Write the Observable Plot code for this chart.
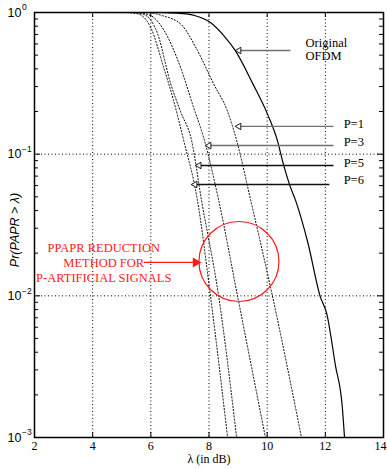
<!DOCTYPE html>
<html><head><meta charset="utf-8">
<script src="https://cdn.jsdelivr.net/npm/d3@7"></script>
<script src="https://cdn.jsdelivr.net/npm/@observablehq/plot@0.6"></script>
<style>body{margin:0;background:#fff}</style>
</head><body><div id="chart"></div>
<script>
// ---- data ----
const lambdaOriginal = [2, 6, 6.5, 7, 7.5, 8.05, 8.5, 8.9, 9.5, 10, 10.35, 10.55, 10.8, 10.97, 11.4, 11.83, 12.04, 12.35, 12.58, 12.66];
const probOriginal   = [1, 1, 0.997, 0.985, 0.953, 0.85, 0.69, 0.54, 0.316, 0.194, 0.125, 0.086, 0.0585, 0.0476, 0.0237, 0.0098, 0.0076, 0.0032, 0.00167, 0.001];

const lambdaP1 = [2, 5.8, 6.4, 7.05, 7.6, 8.15, 8.64, 8.95, 9.43, 10.18, 11.18];
const probP1   = [1, 0.999, 0.95, 0.82, 0.54, 0.316, 0.2, 0.125, 0.0476, 0.01, 0.001];

const lambdaP3 = [2, 5.5, 6.0, 6.45, 7.02, 7.47, 7.82, 8.33, 8.98, 9.94];
const probP3   = [1, 0.999, 0.95, 0.75, 0.41, 0.214, 0.13, 0.0476, 0.01, 0.001];

const lambdaP5 = [2, 5.3, 5.75, 6.23, 6.68, 7.02, 7.4, 7.74, 8.33, 8.95];
const probP5   = [1, 0.999, 0.97, 0.71, 0.316, 0.2, 0.125, 0.0476, 0.01, 0.001];

const lambdaP6 = [2, 5.1, 5.54, 6.0, 6.44, 6.78, 7.13, 7.6, 8.05, 8.64];
const probP6   = [1, 0.999, 0.98, 0.78, 0.41, 0.24, 0.125, 0.0476, 0.01, 0.001];

const seriesNames = ["Original OFDM", "P=1", "P=3", "P=5", "P=6"];

// ticks
const xTicks = [2, 4, 6, 8, 10, 12, 14];
const xGrid = [4, 6, 8, 10, 12];
const yDecades = [1e-3, 1e-2, 1e-1, 1];
const yExponents = ["\u22123", "\u22122", "\u22121", "0"];
const yGrid = [1e-2, 1e-1];
const minorMultipliers = [2, 3, 4, 5, 6, 7, 8, 9];

// annotations
const pLabels = ["P=1", "P=3", "P=5", "P=6"];
const pArrowY = [0.157, 0.115, 0.0832, 0.0611];
const pArrowTipX = [8.91, 7.88, 7.54, 7.40];
const pArrowTailX = [12.28, 12.28, 12.28, 12.14];
const pArrowColor = ["#707070", "#707070", "#111111", "#111111"];
const pLabelX = [12.63, 12.63, 12.63, 12.63];
const pLabelY = [0.164, 0.121, 0.0873, 0.0652];

const origLabel = "Original\nOFDM";
const origLabelX = 11.32, origLabelY = 0.552;
const origArrowTipX = 8.91, origArrowTailX = 10.8, origArrowY = 0.539;

const redLabel = "PPAPR REDUCTION\nMETHOD FOR\nP-ARTIFICIAL SIGNALS";
const redLabelX = 4.38, redLabelY = 0.0172;
const redArrowTailX = 5.76, redArrowTipX = 7.674, redArrowY = 0.0172;
const circleX = 9.03, circleY = 0.01747;

const xAxisLabel = "\u03bb (in dB)";
const yAxisLabel = "Pr(PAPR > \u03bb)";

// ---- build tables ----
const lambdas = [lambdaOriginal, lambdaP1, lambdaP3, lambdaP5, lambdaP6];
const probs = [probOriginal, probP1, probP3, probP5, probP6];
const curveRows = [];
seriesNames.forEach((name, i) => lambdas[i].forEach((l, j) => curveRows.push({series: name, lambda: l, p: probs[i][j]})));
const solidRows = curveRows.filter(d => d.series === "Original OFDM");
const dottedRows = curveRows.filter(d => d.series !== "Original OFDM");

const minorY = [];
yDecades.slice(0, 3).forEach(d => minorMultipliers.forEach(m => minorY.push(d * m)));

const pArrows = pLabels.map((t, i) => ({text: t, y: pArrowY[i], tip: pArrowTipX[i], tail: pArrowTailX[i], color: pArrowColor[i], lx: pLabelX[i], ly: pLabelY[i]}));
const origArrow = [{tip: origArrowTipX, tail: origArrowTailX, y: origArrowY, color: "#707070"}];
const allArrows = pArrows.concat(origArrow);
const yLabels = yDecades.map((d, i) => ({v: d, e: yExponents[i]}));
const xTicksInner = xTicks.slice(0, -1);
const xTickLast = xTicks.slice(-1);

const W = 387, H = 469, mL = 34, mR = 4, mT = 12, mB = 32;
const plotW = W - mL - mR, plotH = H - mT - mB;
const serif = "Liberation Serif, Times New Roman, serif";
const sans = "Liberation Sans, Arial, Helvetica, sans-serif";

const chart = Plot.plot({
  width: W, height: H,
  marginLeft: mL, marginRight: mR, marginTop: mT, marginBottom: mB,
  style: {fontFamily: serif, fontSize: "12px", background: "#fff", overflow: "visible"},
  x: {domain: [2, 14], label: null, axis: null},
  y: {type: "log", domain: [1e-3, 1], axis: null},
  color: {type: "identity"},
  marks: [
    Plot.ruleX(xGrid, {stroke: "#000", strokeWidth: 1, strokeDasharray: "1,2.5"}),
    Plot.ruleY(yGrid, {stroke: "#000", strokeWidth: 1, strokeDasharray: "1,2.5"}),
    Plot.line(dottedRows, {x: "lambda", y: "p", z: "series", stroke: "#000", strokeWidth: 1, strokeDasharray: "1.2,2", curve: "monotone-x"}),
    Plot.line(solidRows, {x: "lambda", y: "p", stroke: "#000", strokeWidth: 1.2, curve: "monotone-x"}),
    Plot.frame({stroke: "#000", strokeWidth: 1.5}),
    // inward ticks
    Plot.tickY(minorY, {y: d => d, insetRight: plotW - 4, stroke: "#000"}),
    Plot.tickY(minorY, {y: d => d, insetLeft: plotW - 4, stroke: "#000"}),
    Plot.tickY(yDecades, {y: d => d, insetRight: plotW - 6, stroke: "#000"}),
    Plot.tickY(yDecades, {y: d => d, insetLeft: plotW - 6, stroke: "#000"}),
    Plot.tickX(xTicks, {x: d => d, insetTop: plotH - 5, stroke: "#000"}),
    Plot.tickX(xTicks, {x: d => d, insetBottom: plotH - 5, stroke: "#000"}),
    // x axis labels
    Plot.text(xTicksInner, {x: d => d, text: d => String(d), frameAnchor: "bottom", textAnchor: "middle", dy: 12, fontSize: 12, fontFamily: serif}),
    Plot.text(xTickLast, {x: d => d, text: d => String(d), frameAnchor: "bottom", textAnchor: "middle", dx: -3, dy: 12, fontSize: 12, fontFamily: serif}),
    Plot.text([xAxisLabel], {frameAnchor: "bottom", textAnchor: "middle", dy: 25, fontSize: 12, fontFamily: serif}),
    // y axis labels 10^k
    Plot.text(yLabels, {y: "v", text: () => "10", frameAnchor: "left", textAnchor: "end", dx: -13, fontFamily: sans, fontSize: 12.5}),
    Plot.text(yLabels, {y: "v", text: "e", frameAnchor: "left", textAnchor: "start", dx: -12.5, dy: -5, fontFamily: sans, fontSize: 8.5}),
    Plot.text([yAxisLabel], {frameAnchor: "left", textAnchor: "middle", rotate: -90, dx: -20, dy: 5, fontFamily: sans, fontSize: 12.5, fontStyle: "italic"}),
    // annotation arrows
    Plot.link(allArrows, {x1: "tip", x2: "tail", y1: "y", y2: "y", stroke: "color", strokeWidth: 1.4}),
    Plot.dot(allArrows, {x: "tip", y: "y", symbol: "triangle", r: 2.4, rotate: -90, dx: 3.5, fill: "#fff", stroke: "#000", strokeWidth: 0.9}),
    Plot.text(pArrows, {x: "lx", y: "ly", text: "text", textAnchor: "start", fontSize: 12.5, fontFamily: serif}),
    Plot.text([origLabel], {x: () => origLabelX, y: () => origLabelY, textAnchor: "start", lineHeight: 1.1, fontSize: 12.5, fontFamily: serif}),
    // red annotation
    Plot.text([redLabel], {x: () => redLabelX, y: () => redLabelY, textAnchor: "middle", fill: "#ff1a1a", lineHeight: 1.18, fontSize: 12.5, fontFamily: serif}),
    Plot.link([0], {x1: () => redArrowTailX, x2: () => redArrowTipX, y1: () => redArrowY, y2: () => redArrowY, stroke: "#ff1a1a", strokeWidth: 1.2}),
    Plot.dot([0], {x: () => redArrowTipX, y: () => redArrowY, symbol: "triangle", r: 2.8, rotate: 90, dx: -3.8, fill: "#ff1a1a", stroke: "#ff1a1a"}),
    Plot.dot([0], {x: () => circleX, y: () => circleY, r: 40, fill: "none", stroke: "#ff1a1a", strokeWidth: 1.2})
  ]
});
document.getElementById("chart").appendChild(chart);
</script>
</body></html>
